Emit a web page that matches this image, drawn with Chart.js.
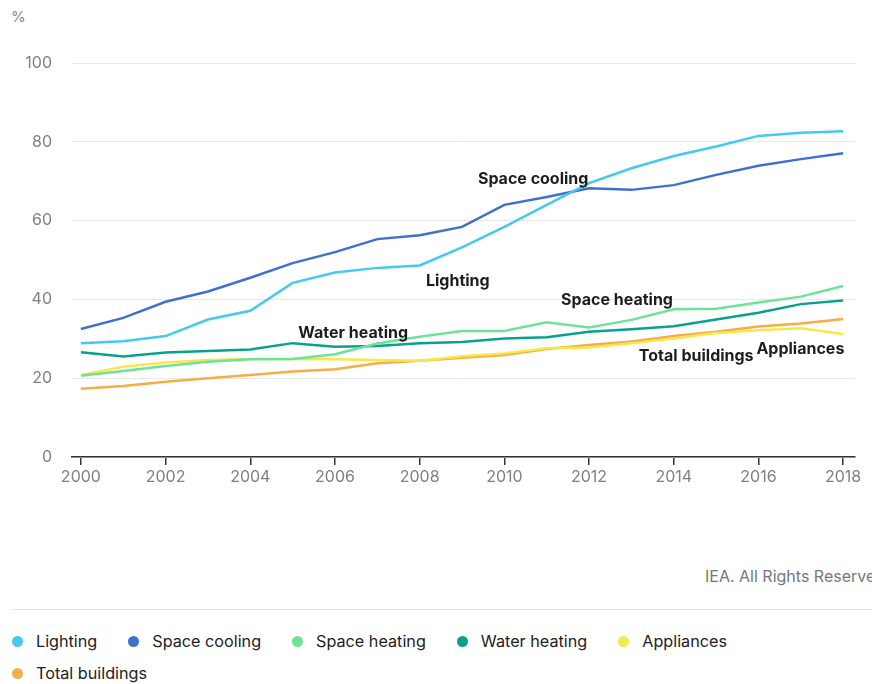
<!DOCTYPE html>
<html>
<head>
<meta charset="utf-8">
<script src="https://cdn.jsdelivr.net/npm/chart.js@4.4.1/dist/chart.umd.min.js"></script>
<style>
    body { margin:0; width:872px; height:684px; overflow:hidden; background:#fff; position:relative; font-family:Inter, "Noto Sans", sans-serif; }
    #unit { position:absolute; left:11px; top:7px; font-size:15px; color:#888; }
    #chart_box { position:absolute; left:0; top:0; width:872px; height:500px; }
    #credit { position:absolute; left:705px; top:566px; font-size:16px; color:#777; white-space:nowrap; }
    #sep { position:absolute; left:12px; top:609px; width:860px; height:1px; background:#e6e6e6; }
    #legend { position:absolute; left:12px; top:629px; width:850px; display:flex; flex-wrap:wrap; }
    .item { display:flex; align-items:center; height:24px; margin-right:31px; margin-bottom:8px; font-size:16.2px; color:#222; }
    .dot { width:11px; height:11px; border-radius:50%; margin-right:13px; }
</style>
</head>
<body>
<div id="unit">%</div>
<div id="chart_box"><canvas id="grafico"></canvas></div>
<div id="credit">IEA. All Rights Reserved</div>
<div id="sep"></div>
<div id="legend"></div>
<script>
// datos
let years = [2000, 2001, 2002, 2003, 2004, 2005, 2006, 2007, 2008, 2009, 2010, 2011, 2012, 2013, 2014, 2015, 2016, 2017, 2018];
let lighting = [28.9, 29.4, 30.7, 34.9, 37.1, 44.2, 46.8, 48.0, 48.6, 53.2, 58.4, 64.0, 69.5, 73.3, 76.4, 78.8, 81.5, 82.3, 82.7];
let spaceCooling = [32.5, 35.3, 39.4, 42.0, 45.5, 49.2, 52.0, 55.3, 56.3, 58.4, 64.0, 66.0, 68.2, 67.8, 69.0, 71.6, 73.9, 75.6, 77.1];
let spaceHeating = [20.6, 21.8, 23.1, 24.2, 24.8, 24.9, 26.1, 28.8, 30.5, 32.0, 32.0, 34.2, 32.9, 34.8, 37.5, 37.6, 39.2, 40.7, 43.4];
let waterHeating = [26.6, 25.5, 26.5, 26.9, 27.3, 28.9, 28.0, 28.2, 28.9, 29.2, 30.1, 30.4, 31.8, 32.4, 33.2, 34.9, 36.6, 38.8, 39.7];
let appliances = [20.8, 22.9, 24.0, 24.6, 24.9, 24.9, 24.8, 24.6, 24.4, 25.6, 26.3, 27.6, 27.8, 28.9, 30.1, 31.5, 32.2, 32.7, 31.2];
let totalBuildings = [17.3, 18.0, 19.1, 20.0, 20.8, 21.7, 22.3, 23.8, 24.4, 25.2, 25.9, 27.4, 28.4, 29.3, 30.7, 31.8, 33.1, 33.9, 35.0];

let seriesNames = ['Lighting', 'Space cooling', 'Space heating', 'Water heating', 'Appliances', 'Total buildings'];
let seriesColors = ['#45c8f2', '#3f6fcf', '#6fe29a', '#0aa08e', '#f6e84a', '#f6ad45'];
let seriesValues = [lighting, spaceCooling, spaceHeating, waterHeating, appliances, totalBuildings];

let xTicks = [2000, 2002, 2004, 2006, 2008, 2010, 2012, 2014, 2016, 2018];
let yTicks = [0, 20, 40, 60, 80, 100];

// etiquetas dentro del grafico (texto, año, valor)
let noteText = ['Space cooling', 'Lighting', 'Space heating', 'Water heating', 'Total buildings', 'Appliances'];
let noteYear = [2010.68, 2008.9, 2012.66, 2006.43, 2014.53, 2016.99];
let noteValue = [70.6, 44.7, 39.8, 31.5, 25.6, 27.4];

let datasets = seriesValues.map((vals, i) => ({
    label: seriesNames[i],
    data: years.map((y, j) => ({x: y, y: vals[j]})),
    borderColor: seriesColors[i],
    backgroundColor: seriesColors[i],
    borderWidth: 2.5,
    pointRadius: 0,
    tension: 0
}));

let notesPlugin = {
    id: 'notes',
    afterDatasetsDraw: (chart) => {
        let ctx = chart.ctx;
        let sx = chart.scales.x, sy = chart.scales.y;
        ctx.save();
        ctx.font = 'bold 16px Inter, "Noto Sans", sans-serif';
        ctx.fillStyle = '#1d1d1d';
        ctx.textAlign = 'center';
        ctx.textBaseline = 'middle';
        noteText.forEach((t, i) => {
            ctx.fillText(t, sx.getPixelForValue(noteYear[i]), sy.getPixelForValue(noteValue[i]));
        });
        ctx.restore();
    }
};

let mychart = new Chart('grafico', {
    type: 'line',
    data: {datasets: datasets},
    options: {
        responsive: true,
        maintainAspectRatio: false,
        animation: false,
        layout: {padding: {left: 0, right: 17, top: 63, bottom: 0}},
        plugins: {legend: {display: false}, tooltip: {enabled: false}},
        scales: {
            x: {
                type: 'linear',
                min: 1999.79,
                max: 2018.28,
                afterBuildTicks: (scale) => { scale.ticks = xTicks.map(v => ({value: v})); },
                afterFit: (scale) => { scale.height = 43; },
                grid: {drawOnChartArea: false, drawTicks: true, tickLength: 8, color: '#333', lineWidth: 1.5},
                border: {display: true, color: '#333', width: 1.5},
                ticks: {padding: 3, color: '#808080', font: {family: 'Inter', size: 16}, callback: v => String(v), maxRotation: 0}
            },
            y: {
                min: 0,
                max: 100,
                afterBuildTicks: (scale) => { scale.ticks = yTicks.map(v => ({value: v})); },
                afterFit: (scale) => { scale.width = 72; },
                grid: {drawTicks: false, color: '#e8e8e8', lineWidth: 1},
                border: {display: false},
                ticks: {padding: 20, color: '#808080', font: {family: 'Inter', size: 16}}
            }
        }
    },
    plugins: [notesPlugin]
});

// leyenda html
let legend = document.getElementById('legend');
seriesNames.forEach((name, i) => {
    let item = "<div class='item'><span class='dot' style='background:" + seriesColors[i] + "'></span>" + name + "</div>";
    legend.insertAdjacentHTML('beforeend', item);
});
</script>
</body>
</html>
